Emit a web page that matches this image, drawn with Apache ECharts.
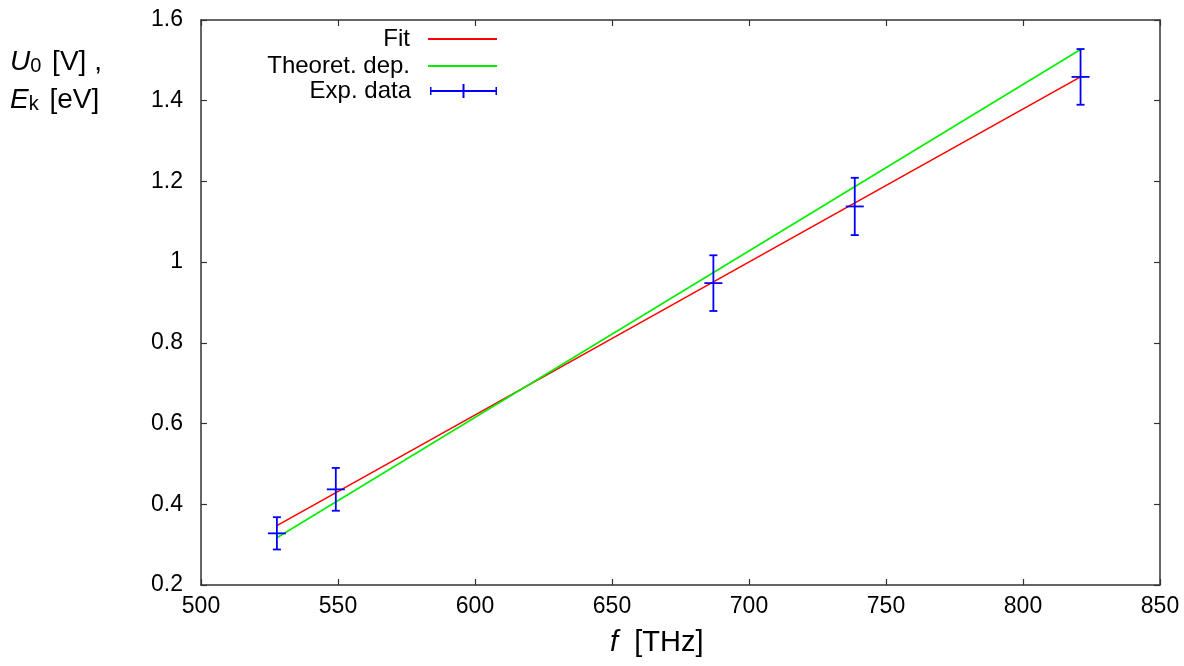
<!DOCTYPE html>
<html>
<head>
<meta charset="utf-8">
<script src="https://cdn.jsdelivr.net/npm/echarts@6/dist/echarts.min.js"></script>
<style>
html,body{margin:0;padding:0;background:#fff;}
#chart{width:1184px;height:666px;}
</style>
</head>
<body>
<div id="chart"></div>
<script>
// Experimental data
const freqTHz = [527.7, 549.2, 687.0, 738.6, 821.0];
const stopVoltage = [0.328, 0.437, 0.948, 1.138, 1.459];
const voltageErr = [0.040, 0.053, 0.069, 0.071, 0.069];
// Fit line endpoints
const fitFreq = [527.7, 821.0];
const fitVolt = [0.347, 1.459];
// Theoretical dependence endpoints
const theoFreq = [527.7, 821.0];
const theoVolt = [0.317, 1.527];
// Axis ticks
const xTicks = [500, 550, 600, 650, 700, 750, 800, 850];
const yTicks = [0.2, 0.4, 0.6, 0.8, 1.0, 1.2, 1.4, 1.6];

const FONT = '"Liberation Sans", Arial, sans-serif';
const chart = echarts.init(document.getElementById('chart'), null, {renderer: 'canvas'});

const expData = freqTHz.map((f, i) => [f, stopVoltage[i], voltageErr[i]]);
const fitData = fitFreq.map((f, i) => [f, fitVolt[i]]);
const theoData = theoFreq.map((f, i) => [f, theoVolt[i]]);

const axisLine = {lineStyle: {color: '#333', width: 1.5}};
const tickStyle = {inside: true, length: 6, lineStyle: {color: '#333', width: 1.2}};

function legendFor(name, top, icon, h) {
  return {
    data: [name], right: 687, top: top, orient: 'vertical', align: 'right',
    itemWidth: 69, itemHeight: h, icon: icon, padding: 0,
    textStyle: {fontSize: 24, color: '#000', fontFamily: FONT, padding: [0, 13, 0, 0]},
    selectedMode: false
  };
}

const option = {
  backgroundColor: '#fff',
  animation: false,
  grid: {left: 201, right: 24, top: 20, bottom: 81},
  legend: [
    legendFor('Fit', 27, 'rect', 2),
    legendFor('Theoret. dep.', 54, 'rect', 2),
    legendFor('Exp. data', 79, 'path://M0,6 L67,6 L67,8 L0,8 Z M32.5,0 L34.5,0 L34.5,14 L32.5,14 Z M0,3 L1.5,3 L1.5,11 L0,11 Z M65.5,3 L67,3 L67,11 L65.5,11 Z', 14)
  ],
  xAxis: [{
    type: 'value', min: 500, max: 850, interval: 50, position: 'bottom',
    axisLine: axisLine, axisTick: tickStyle, splitLine: {show: false},
    axisLabel: {fontSize: 23, color: '#000', fontFamily: FONT, margin: 10,
      formatter: v => xTicks.includes(v) ? String(v) : ''}
  }, {
    type: 'value', min: 500, max: 850, interval: 50, position: 'top',
    axisLine: axisLine, axisTick: tickStyle, splitLine: {show: false},
    axisLabel: {show: false}
  }],
  yAxis: [{
    type: 'value', min: 0.2, max: 1.6, interval: 0.2, position: 'left',
    axisLine: axisLine, axisTick: tickStyle, splitLine: {show: false},
    axisLabel: {fontSize: 23, color: '#000', fontFamily: FONT, margin: 18,
      formatter: v => String(+(+v).toFixed(1))}
  }, {
    type: 'value', min: 0.2, max: 1.6, interval: 0.2, position: 'right',
    axisLine: axisLine, axisTick: tickStyle, splitLine: {show: false},
    axisLabel: {show: false}
  }],
  graphic: [
    {type: 'text', left: 10, top: 48, style: {
      text: '{i|U}{s|0} [V] ,', fill: '#000', font: '28px ' + FONT,
      rich: {i: {fontStyle: 'italic', fontSize: 28, fontFamily: FONT},
             s: {fontSize: 20, fontFamily: FONT, verticalAlign: 'bottom', padding: [8, 3, 0, 0]}}}},
    {type: 'text', left: 10, top: 86, style: {
      text: '{i|E}{s|k} [eV]', fill: '#000', font: '28px ' + FONT,
      rich: {i: {fontStyle: 'italic', fontSize: 28, fontFamily: FONT},
             s: {fontSize: 20, fontFamily: FONT, verticalAlign: 'bottom', padding: [8, 3, 0, 0]}}}},
    {type: 'text', left: 610, top: 628, style: {
      text: '{i|f}  [THz]', fill: '#000', font: '29px ' + FONT,
      rich: {i: {fontStyle: 'italic', fontSize: 29, fontFamily: FONT}}}}
  ],
  series: [{
    name: 'Fit', type: 'line', data: fitData, showSymbol: false, symbol: 'none',
    color: '#ff0000', lineStyle: {color: '#ff0000', width: 1.6}, z: 2
  }, {
    name: 'Theoret. dep.', type: 'line', data: theoData, showSymbol: false, symbol: 'none',
    color: '#00ee00', lineStyle: {color: '#00ee00', width: 1.6}, z: 2
  }, {
    name: 'Exp. data', type: 'custom', data: expData, color: '#0000ff', z: 5,
    encode: {x: 0, y: 1},
    renderItem: function (params, api) {
      const x = api.value(0), y = api.value(1), e = api.value(2);
      const c = api.coord([x, y]);
      const top = api.coord([x, y + e]);
      const bot = api.coord([x, y - e]);
      const st = {stroke: '#0000ff', lineWidth: 1.8};
      return {type: 'group', children: [
        {type: 'line', shape: {x1: c[0], y1: top[1], x2: c[0], y2: bot[1]}, style: st},
        {type: 'line', shape: {x1: c[0] - 4, y1: top[1], x2: c[0] + 4, y2: top[1]}, style: st},
        {type: 'line', shape: {x1: c[0] - 4, y1: bot[1], x2: c[0] + 4, y2: bot[1]}, style: st},
        {type: 'line', shape: {x1: c[0] - 9, y1: c[1], x2: c[0] + 9, y2: c[1]}, style: st}
      ]};
    }
  }]
};
chart.setOption(option);
</script>
</body>
</html>
